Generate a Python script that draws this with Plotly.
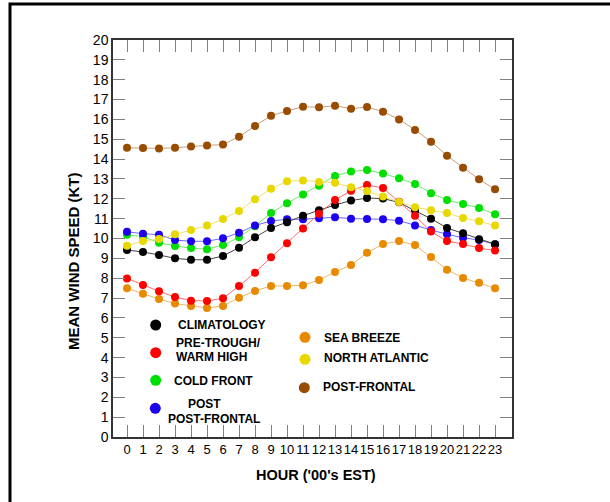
import plotly.graph_objects as go

hours = list(range(24))

climatology = [9.42, 9.32, 9.17, 9.00, 8.93, 8.93, 9.12, 9.54, 10.06, 10.53, 10.82, 11.15,
               11.42, 11.69, 11.91, 12.04, 12.01, 11.82, 11.40, 11.00, 10.53, 10.26, 9.96, 9.71]
pre_trough = [7.99, 7.66, 7.34, 7.05, 6.87, 6.85, 6.99, 7.61, 8.28, 9.05, 9.76, 10.51,
              11.25, 11.94, 12.41, 12.70, 12.54, 11.85, 11.14, 10.35, 9.87, 9.72, 9.52, 9.39]
cold_front = [10.19, 10.09, 9.79, 9.62, 9.52, 9.46, 9.67, 10.06, 10.62, 11.28, 11.77, 12.22,
              12.66, 13.15, 13.38, 13.45, 13.27, 13.03, 12.75, 12.28, 11.94, 11.74, 11.54, 11.22]
post_post_frontal = [10.34, 10.24, 10.19, 9.92, 9.86, 9.86, 10.01, 10.29, 10.66, 10.88, 10.97, 10.97,
                     11.02, 11.07, 11.00, 10.98, 10.97, 10.90, 10.65, 10.43, 10.21, 10.04, 9.92, 9.71]
sea_breeze = [7.49, 7.22, 6.95, 6.72, 6.60, 6.50, 6.60, 7.02, 7.36, 7.61, 7.61, 7.64,
              7.91, 8.31, 8.66, 9.28, 9.72, 9.87, 9.67, 9.07, 8.43, 8.01, 7.77, 7.49]
north_atlantic = [9.64, 9.87, 9.97, 10.21, 10.43, 10.65, 10.98, 11.39, 11.98, 12.51, 12.88, 12.92,
                  12.85, 12.81, 12.58, 12.39, 12.11, 11.84, 11.58, 11.42, 11.28, 11.03, 10.87, 10.65]
post_frontal = [14.57, 14.56, 14.54, 14.57, 14.64, 14.69, 14.73, 15.13, 15.67, 16.19, 16.42, 16.64,
                16.61, 16.69, 16.54, 16.62, 16.39, 16.00, 15.47, 14.88, 14.17, 13.57, 12.98, 12.48]

# name, values, marker colour, line colour
series = [
    ("POST-FRONTAL", post_frontal, "#994c00", "#c9a07a"),
    ("SEA BREEZE", sea_breeze, "#e88a00", "#f2b566"),
    ("COLD FRONT", cold_front, "#00e000", "#66ee66"),
    ("POST POST-FRONTAL", post_post_frontal, "#1e00f0", "#6a6aff"),
    ("CLIMATOLOGY", climatology, "#000000", "#444444"),
    ("PRE-TROUGH/WARM HIGH", pre_trough, "#ff0000", "#ff6a6a"),
    ("NORTH ATLANTIC", north_atlantic, "#e8d800", "#f0e070"),
]

fig = go.Figure()
for name, vals, mc, lc in series:
    fig.add_trace(go.Scatter(
        x=hours, y=vals, mode="lines+markers", name=name,
        line=dict(color=lc, width=1),
        marker=dict(color=mc, size=8, line=dict(width=0)),
        showlegend=False))

# plot area in pixels
L, R, T, B = 113, 512, 40, 437
W, H = 610, 502
pw, ph = R - L, B - T

def px(x):
    return (x - L) / pw

def py(y):
    return (B - y) / ph

font = "Arial, Liberation Sans, sans-serif"
shapes = []
annotations = []

# outer frame
shapes.append(dict(type="rect", xref="paper", yref="paper",
                   x0=px(10), x1=px(640), y0=py(540), y1=py(4),
                   line=dict(color="black", width=3), fillcolor="rgba(0,0,0,0)", layer="above"))

# legend entries: (dot colour, dot x, dot y, [(text, x, y, anchor)])
legend_items = [
    ("#000000", 155.7, 325, [("CLIMATOLOGY", 176, 325, "left")]),
    ("#ff0000", 155.7, 352.7, [("PRE-TROUGH/", 174, 342.5, "left"), ("WARM HIGH", 174, 357, "left")]),
    ("#00e000", 155.7, 380.3, [("COLD FRONT", 172.3, 380.5, "left")]),
    ("#1e00f0", 155.3, 408.3, [("POST", 204, 404, "center"), ("POST-FRONTAL", 166, 418.5, "left")]),
    ("#e88a00", 305, 337.3, [("SEA BREEZE", 322.3, 337.5, "left")]),
    ("#e8d800", 305, 359.3, [("NORTH ATLANTIC", 321.7, 357.5, "left")]),
    ("#994c00", 304.3, 387.7, [("POST-FRONTAL", 320.7, 387, "left")]),
]
r = 5.5
for col, dx, dy, texts in legend_items:
    shapes.append(dict(type="circle", xref="paper", yref="paper",
                       x0=px(dx - r), x1=px(dx + r), y0=py(dy + r), y1=py(dy - r),
                       fillcolor=col, line=dict(width=0), layer="above"))
    for t, tx, ty, anc in texts:
        annotations.append(dict(text="<b>%s</b>" % t, xref="paper", yref="paper",
                                x=px(tx), y=py(ty), xanchor=anc, yanchor="middle",
                                showarrow=False, font=dict(family=font, size=12, color="black")))

# axis titles
annotations.append(dict(text="<b>HOUR ('00's EST)</b>", xref="paper", yref="paper",
                        x=px(316), y=py(475), xanchor="center", yanchor="middle",
                        showarrow=False, font=dict(family=font, size=14.5, color="black")))
annotations.append(dict(text="<b>MEAN WIND SPEED (KT)</b>", xref="paper", yref="paper",
                        x=px(73), y=py(261), xanchor="center", yanchor="middle", textangle=-90,
                        showarrow=False, font=dict(family=font, size=15, color="black")))

fig.update_layout(
    width=W, height=H,
    margin=dict(l=L, r=W - R, t=T, b=H - B),
    paper_bgcolor="white", plot_bgcolor="white",
    shapes=shapes, annotations=annotations,
    showlegend=False,
)
fig.update_xaxes(range=[-0.875, 24.06], tickmode="array", tickvals=hours,
                 ticktext=[str(h) for h in hours], tickangle=0,
                 ticks="inside", ticklen=12, tickcolor="#808080", tickwidth=1,
                 showline=True, linecolor="#333333", linewidth=1.5, mirror="ticks",
                 showgrid=False, zeroline=False,
                 tickfont=dict(family=font, size=13, color="black"))
fig.update_yaxes(range=[0, 20], tickmode="linear", tick0=0, dtick=1,
                 ticks="inside", ticklen=12, tickcolor="#808080", tickwidth=1,
                 showline=True, linecolor="#333333", linewidth=1.5, mirror="ticks",
                 showgrid=False, zeroline=False,
                 tickfont=dict(family=font, size=14, color="black"))

fig.write_html("out.html")
